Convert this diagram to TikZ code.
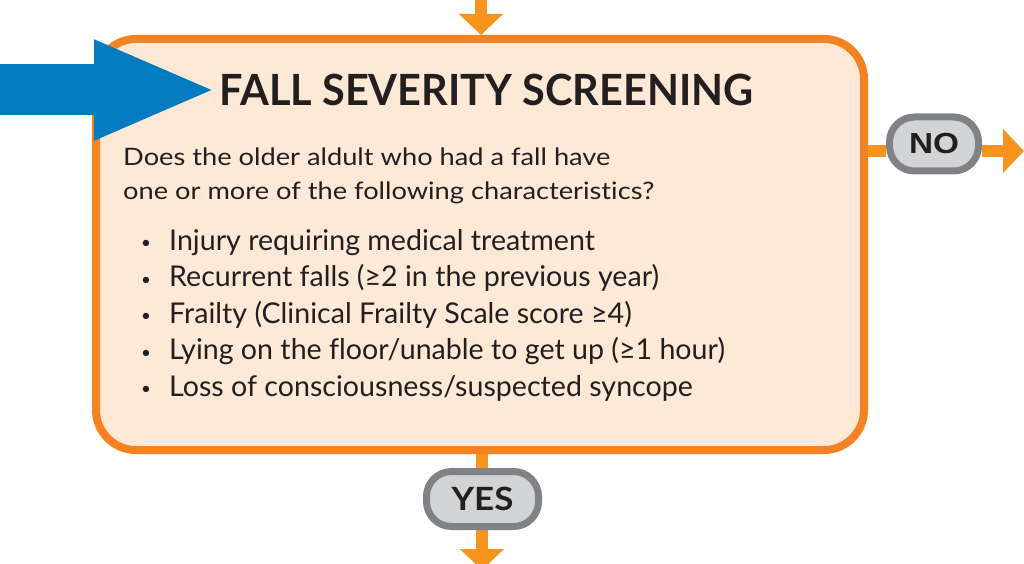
\documentclass[tikz,border=0pt]{standalone}
\usepackage{fontspec}
\setmainfont{Lato}[Ligatures=CommonOff]
\newfontfamily\introfont{Lato}[FakeStretch=1.135, Ligatures=CommonOff]
\newfontfamily\titlefont{Lato}[FakeStretch=0.965, Ligatures=CommonOff]
\newfontfamily\nofont{Liberation Sans}[FakeStretch=1.15]
\newfontfamily\yesfont{Lato}[FakeStretch=1.09]
\usetikzlibrary{arrows.meta,backgrounds}
\definecolor{boxorange}{HTML}{F58220}
\definecolor{linkorange}{HTML}{F7941D}
\definecolor{boxfill}{HTML}{FDE9D6}
\definecolor{pillgray}{HTML}{808285}
\definecolor{pillfill}{HTML}{D1D3D4}
\definecolor{arrowblue}{HTML}{027BC0}
\definecolor{ink}{HTML}{231F20}
\tikzset{
  mainbox/.style={draw=boxorange, fill=boxfill, line width=8pt, rounded corners=40pt, inner sep=0pt},
  pill/.style={draw=pillgray, fill=pillfill, line width=7pt, rounded corners=25pt, inner sep=0pt, text=ink},
  link/.style={draw=linkorange, line width=12pt},
  linkarrow/.style={link, -{Triangle[width=43pt,length=21pt]}},
  introtext/.style={inner sep=0pt, anchor=base west, text=ink, font=\introfont\fontsize{24pt}{28pt}\selectfont},
  bullettext/.style={inner sep=0pt, anchor=base west, text=ink, font=\fontsize{28.6pt}{32pt}\selectfont},
}
\newcommand{\bul}{\makebox[28pt][l]{\fontsize{17pt}{17pt}\selectfont\raisebox{1.5pt}{\textbullet}}}
\begin{document}
\begin{tikzpicture}[x=1pt,y=-1pt]
\clip (0,0) rectangle (1024,564);
\begin{scope}[on background layer]
\fill[white] (0,0) rectangle (1024,564);
\node[mainbox, minimum width=768pt, minimum height=411pt] (box) at (480,244.5) {};
\end{scope}
% title
\node[inner sep=0pt, anchor=base west, text=ink, font=\titlefont\fontsize{43pt}{50pt}\selectfont\bfseries] (title) at (219,106) {FALL SEVERITY SCREENING};
% question
\node[introtext] (q1) at (123,166) {Does the older aldult who had a fall have};
\node[introtext] (q2) at (123,199) {one or more of the following characteristics?};
% bullets
\node[bullettext] (b1) at (141,250) {\bul Injury requiring medical treatment};
\node[bullettext] (b2) at (141,286.5) {\bul Recurrent falls (≥2 in the previous year)};
\node[bullettext] (b3) at (141,323) {\bul Frailty (Clinical Frailty Scale score ≥4)};
\node[bullettext] (b4) at (141,359.5) {\bul Lying on the floor/unable to get up (≥1 hour)};
\node[bullettext] (b5) at (141,396) {\bul Loss of consciousness/suspected syncope};
% pills
\node[pill, minimum width=89pt, minimum height=54pt, font=\nofont\fontsize{29pt}{30pt}\selectfont\bfseries] (no) at (934,144) {\raisebox{-2.5pt}{NO}};
\node[pill, minimum width=112pt, minimum height=55pt, font=\yesfont\fontsize{32pt}{33pt}\selectfont\bfseries] (yes) at (482.5,499) {YES};
\coordinate (topstart) at (481,-2);
\coordinate (bluestart) at (-2,90);
\coordinate (bluetip) at (217,90);
\coordinate (nolevel) at (1024,151);
\coordinate (yesend) at (482,570);
\begin{scope}[on background layer]
% incoming arrows
\draw[linkarrow] (topstart) -- (topstart |- box.north);
\draw[draw=arrowblue, line width=51pt, -{Triangle[width=91pt,length=123pt]}] (bluestart) -- (bluetip);
% NO branch
\draw[link] (box.east |- nolevel) -- (no.west |- nolevel);
\draw[linkarrow] (no.east |- nolevel) -- (nolevel);
% YES branch
\draw[link] (yesend |- box.south) -- (yesend |- yes.north);
\draw[linkarrow] (yesend |- yes.south) -- (yesend);
\end{scope}
\end{tikzpicture}
\end{document}
